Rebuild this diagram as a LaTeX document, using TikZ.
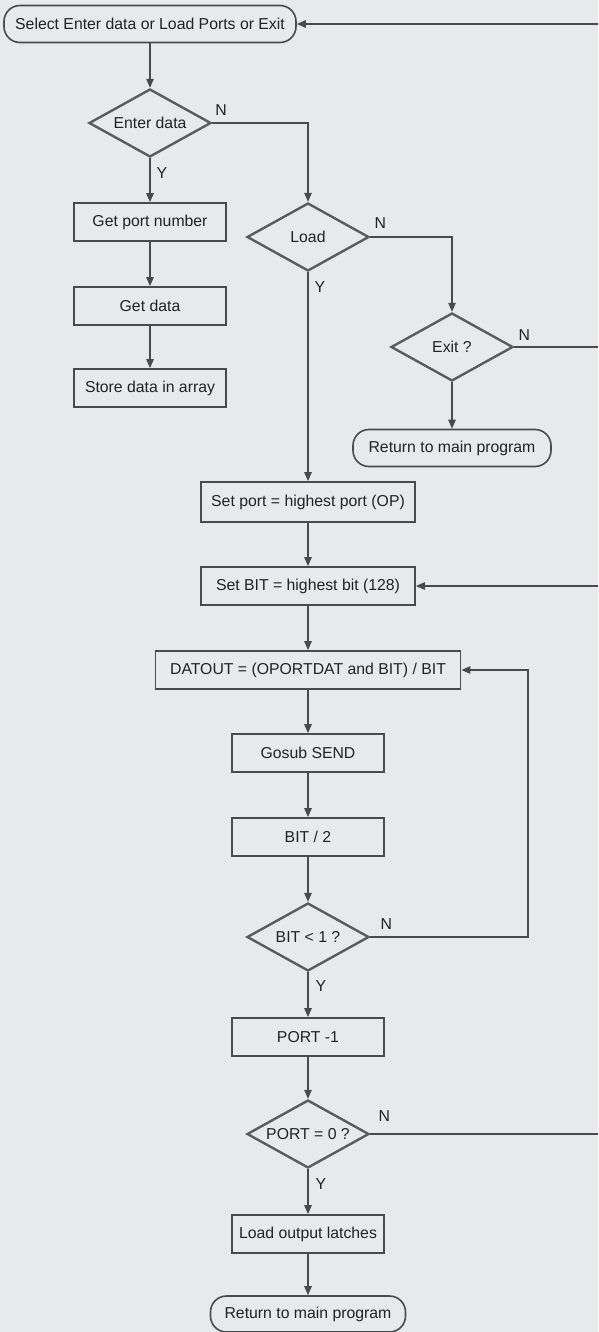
\documentclass[tikz,border=0pt]{standalone}
\usepackage{fontspec}
\setmainfont{Liberation Sans}
\usetikzlibrary{shapes.geometric,arrows.meta,calc}
\definecolor{bg}{HTML}{E8E9EB}
\definecolor{ln}{HTML}{4A4A4C}
\definecolor{dl}{HTML}{5C5C5E}
\definecolor{tx}{HTML}{222224}
\begin{document}
\begin{tikzpicture}[x=1pt,y=-1pt,
  every node/.style={font=\fontsize{15.8}{18}\selectfont, text=tx},
  proc/.style={draw=ln, line width=1.8pt, minimum width=152pt, minimum height=38pt, inner sep=0pt},
  term/.style={draw=ln, line width=1.6pt, rounded corners=16pt, minimum height=36pt, inner sep=0pt},
  dec/.style={diamond, aspect=1.8, draw=dl, line width=2.4pt, minimum width=122pt, minimum height=68pt, inner sep=0pt},
  conn/.style={draw=ln, line width=1.2pt},
  arr/.style={conn, -{Triangle[length=9pt,width=7.5pt]}},
  lbl/.style={inner sep=0pt}
]
\fill[bg] (0,0) rectangle (598,1332);
\useasboundingbox (0,0) rectangle (598,1332);

% left column
\node[term, minimum width=292pt, minimum height=37pt] (sel) at (150,24) {Select Enter data or Load Ports or Exit};
\node[dec] (ent) at (150,123) {Enter data};
\node[proc] (gpn) at (150,222) {Get port number};
\node[proc] (gd) at (150,306) {Get data};
\node[proc] (sd) at (150,388) {Store data in array};

% right branch
\node[dec] (load) at (308,237) {Load};
\node[dec] (exit) at (452,347) {Exit ?};
\node[term, minimum width=198pt, minimum height=37pt] (ret1) at (452,448) {Return to main program};

% main column
\node[proc, minimum width=214pt, minimum height=40pt] (sp) at (308,502) {Set port = highest port (OP)};
\node[proc, minimum width=214pt, minimum height=38pt] (sb) at (308,586) {Set BIT = highest bit (128)};
\node[proc, minimum width=305pt] (dat) at (308,670) {DATOUT = (OPORTDAT and BIT) / BIT};
\node[proc] (gs) at (308,753) {Gosub SEND};
\node[proc] (b2) at (308,837) {BIT / 2};
\node[dec] (b1) at (308,937) {BIT < 1 ?};
\node[proc] (pm) at (308,1037) {PORT -1};
\node[dec] (p0) at (308,1134) {PORT = 0 ?};
\node[proc] (lol) at (308,1234) {Load output latches};
\node[term, minimum width=195pt, minimum height=36pt] (ret2) at (308,1314) {Return to main program};

% free ends at the right edge
\coordinate (rt) at (598,24);
\coordinate (rx) at (598,347);
\coordinate (rb) at (598,586);
\coordinate (rp) at (598,1134);
\coordinate (lp) at (528,670);

% labels
\node[lbl] (nent) at ($(ent.east)+(9,-13)$) {N};
\node[lbl] (yent) at ($(ent.south)+(12,15)$) {Y};
\node[lbl] (nload) at ($(load.east)+(10,-14)$) {N};
\node[lbl] (yload) at ($(load.south)+(12,15)$) {Y};
\node[lbl] (nexit) at ($(exit.east)+(10,-12)$) {N};
\node[lbl] (nb1) at ($(b1.east)+(16,-13)$) {N};
\node[lbl] (yb1) at ($(b1.south)+(13,14)$) {Y};
\node[lbl] (np0) at ($(p0.east)+(14,-18)$) {N};
\node[lbl] (yp0) at ($(p0.south)+(13,15)$) {Y};

% connectors
\draw[arr] (rt) -- (sel.east);
\draw[arr] (sel) -- (ent);
\draw[arr] (ent) -- (gpn);
\draw[arr] (gpn) -- (gd);
\draw[arr] (gd) -- (sd);
\draw[arr] (ent.east) -| (load.north);
\draw[arr] (load.east) -| (exit.north);
\draw[arr] (exit) -- (ret1);
\draw[conn] (exit.east) -- (rx);
\draw[arr] (load) -- (sp);
\draw[arr] (sp) -- (sb);
\draw[arr] (rb) -- (sb.east);
\draw[arr] (sb) -- (dat);
\draw[arr] (dat) -- (gs);
\draw[arr] (gs) -- (b2);
\draw[arr] (b2) -- (b1);
\draw[arr] (b1.east) -| (lp) -- (dat.east);
\draw[arr] (b1) -- (pm);
\draw[arr] (pm) -- (p0);
\draw[conn] (p0.east) -- (rp);
\draw[arr] (p0) -- (lol);
\draw[arr] (lol) -- (ret2);
\end{tikzpicture}
\end{document}
